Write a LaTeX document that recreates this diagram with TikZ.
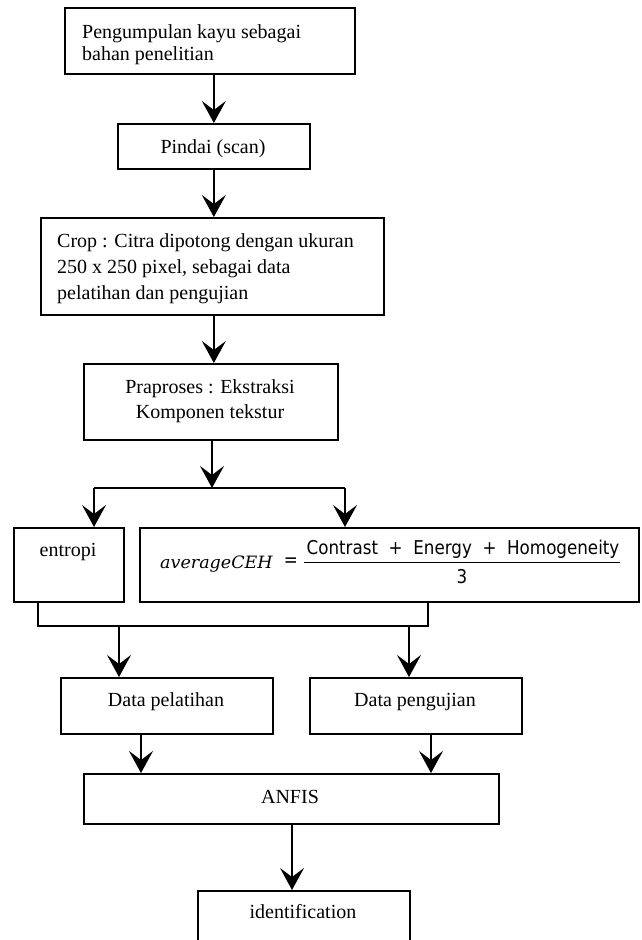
\documentclass[tikz,border=0pt]{standalone}
\usepackage{fontspec}
\setmainfont{Liberation Serif}
\newfontfamily\formsans{DejaVu Sans}
\newfontfamily\formital{DejaVu Serif}
\usetikzlibrary{arrows.meta}
\begin{document}
\begin{tikzpicture}[x=1pt,y=-1pt,
  box/.style={draw, line width=1.7pt, inner sep=0pt, anchor=north west},
  txt/.style={inner sep=0pt, font=\fontsize{20}{24}\selectfont},
  ftxt/.style={inner sep=0pt, font=\formsans\fontsize{19}{22}\selectfont},
  conn/.style={line width=1.3pt, -{Stealth[length=22pt,width=24pt,inset=9pt]}},
  wire/.style={line width=1.3pt},
]
\useasboundingbox (0,0) rectangle (641,940);

% boxes
\node[box, minimum width=290pt, minimum height=66pt] (b1) at (64,7) {};
\node[box, minimum width=192pt, minimum height=45pt] (b2) at (117,123) {};
\node[box, minimum width=343pt, minimum height=97pt] (b3) at (40,217) {};
\node[box, minimum width=254pt, minimum height=76pt] (b4) at (83,363) {};
\node[box, minimum width=110pt, minimum height=74pt] (ent) at (13,527) {};
\node[box, minimum width=499pt, minimum height=74pt] (form) at (139,527) {};
\node[box, minimum width=212pt, minimum height=56pt] (dp) at (60,677) {};
\node[box, minimum width=212pt, minimum height=56pt] (dg) at (309,677) {};
\node[box, minimum width=415pt, minimum height=50pt] (anfis) at (83,773) {};
\node[box, minimum width=212pt, minimum height=70pt] (ident) at (197,890) {};

% texts
\node[txt, anchor=base west] (t1a) at (82,38) {Pengumpulan kayu sebagai};
\node[txt, anchor=base west] (t1b) at (82,60) {bahan penelitian};
\node[txt, anchor=base] (t2) at (213,153) {Pindai (scan)};
\node[txt, anchor=base west] (t3a) at (57,247.5) {Crop : Citra dipotong dengan ukuran};
\node[txt, anchor=base west] (t3b) at (57,273.5) {250 x 250 pixel, sebagai data};
\node[txt, anchor=base west] (t3c) at (57,299.5) {pelatihan dan pengujian};
\node[txt, anchor=base] (t4a) at (210,393) {Praproses : Ekstraksi};
\node[txt, anchor=base] (t4b) at (210,418.5) {Komponen tekstur};
\node[txt, anchor=base] (t5) at (68,556) {entropi};
\node[inner sep=0pt, anchor=base west] (t6) at (160,568)
  {\scalebox{1.03}[1]{\formital\itshape\fontsize{17}{20}\selectfont averageCEH}};
\node[ftxt] (t7) at (291,562) {\scalebox{0.88}[1]{=}};
\node[ftxt, anchor=base] (t8) at (463,554)
  {\scalebox{0.88}[1]{Contrast~~+~~Energy~~+~~Homogeneity}};
\node[ftxt, anchor=base] (t9) at (462,583) {\scalebox{0.88}[1]{3}};
\draw[line width=1.8pt] (304,562.5) -- (620,562.5);
\node[txt, anchor=base] (t10) at (166,706.5) {Data pelatihan};
\node[txt, anchor=base] (t11) at (415,706.5) {Data pengujian};
\node[txt, anchor=base] (t12) at (290,803) {ANFIS};
\node[txt, anchor=base] (t13) at (303,918.5) {identification};

% connectors
\draw[conn] (b2.north |- b1.south) -- (b2.north);
\draw[conn] (b2.south) -- (b2.south |- b3.north);
\draw[conn] (b3.south -| b2.south) -- (b4.north -| b2.south);

\coordinate (j0) at (212,488);
\coordinate (ja) at (94,488);
\coordinate (jb) at (345,488);
\draw[conn] (j0 |- b4.south) -- (j0);
\draw[wire] (ja) -- (jb);
\draw[conn] (ja) -- (ja |- ent.north);
\draw[conn] (jb) -- (jb |- form.north);

\coordinate (ma) at (38,626);
\coordinate (mb) at (428,626);
\coordinate (mc) at (119,626);
\coordinate (md) at (409,626);
\draw[wire] (ma |- ent.south) -- (ma) -- (mb) -- (mb |- form.south);
\draw[conn] (mc) -- (mc |- dp.north);
\draw[conn] (md) -- (md |- dg.north);

\coordinate (pa) at (141,0);
\coordinate (pb) at (431,0);
\coordinate (pc) at (292,0);
\draw[conn] (pa |- dp.south) -- (pa |- anfis.north);
\draw[conn] (pb |- dg.south) -- (pb |- anfis.north);
\draw[conn] (pc |- anfis.south) -- (pc |- ident.north);
\end{tikzpicture}
\end{document}
